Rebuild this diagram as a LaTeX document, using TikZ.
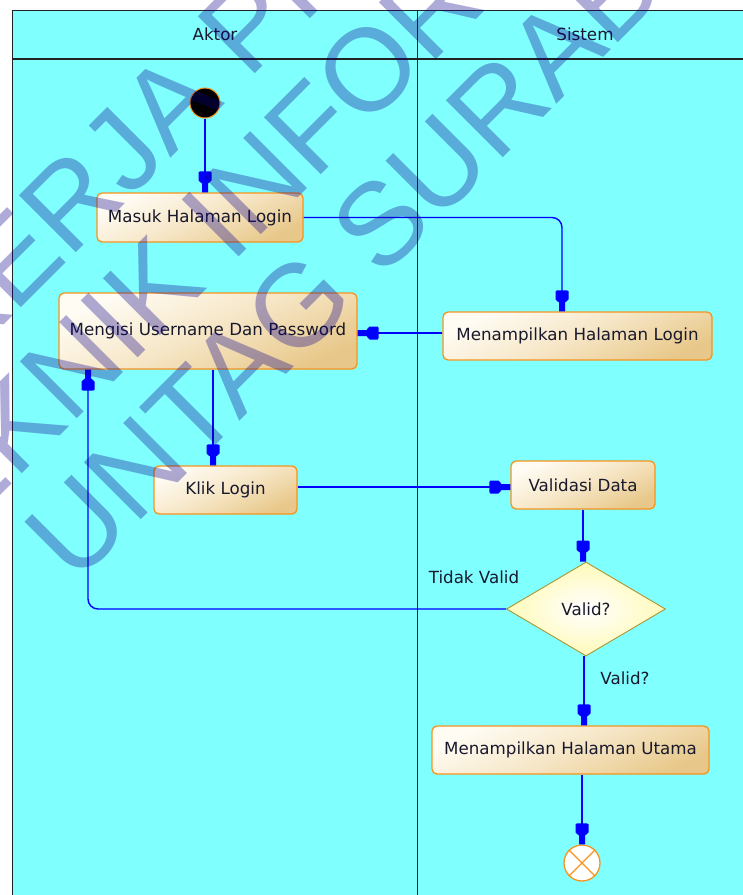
\documentclass[tikz,border=0pt]{standalone}
\usepackage{fontspec}
\setmainfont{DejaVu Sans}
\newfontfamily\wmfont{Liberation Sans}
\usetikzlibrary{arrows.meta,shapes.geometric}

\definecolor{lane}{RGB}{128,255,255}
\definecolor{rule}{RGB}{35,35,35}
\definecolor{ink}{RGB}{25,25,45}
\definecolor{actborder}{RGB}{247,148,29}
\definecolor{acttop}{RGB}{255,252,244}
\definecolor{actmid}{RGB}{246,230,198}
\definecolor{actbot}{RGB}{232,200,138}
\definecolor{decborder}{RGB}{170,150,50}
\definecolor{decfill}{RGB}{255,250,185}
\definecolor{flowblue}{RGB}{0,0,255}
\definecolor{wmblue}{RGB}{10,0,140}

\newcommand{\labelfont}{\fontsize{16.7}{20}\selectfont}

% stepped block arrow head: wide block, short taper, narrow stub at the tip
\pgfdeclarearrow{
  name = Block,
  parameters = {},
  setup code = {
    \pgfarrowssettipend{0pt}
    \pgfarrowssetlineend{-15pt}
    \pgfarrowssetbackend{-21pt}
    \pgfarrowshullpoint{0pt}{3pt}
    \pgfarrowshullpoint{0pt}{-3pt}
    \pgfarrowshullpoint{-21pt}{6.5pt}
    \pgfarrowshullpoint{-21pt}{-6.5pt}
  },
  drawing code = {
    \pgfpathmoveto{\pgfqpoint{0pt}{3pt}}
    \pgfpathlineto{\pgfqpoint{-9pt}{3pt}}
    \pgfpathlineto{\pgfqpoint{-10pt}{4.5pt}}
    \pgfpathlineto{\pgfqpoint{-12pt}{6.5pt}}
    \pgfpathlineto{\pgfqpoint{-20pt}{6.5pt}}
    \pgfpathlineto{\pgfqpoint{-21pt}{5pt}}
    \pgfpathlineto{\pgfqpoint{-21pt}{-5pt}}
    \pgfpathlineto{\pgfqpoint{-20pt}{-6.5pt}}
    \pgfpathlineto{\pgfqpoint{-12pt}{-6.5pt}}
    \pgfpathlineto{\pgfqpoint{-10pt}{-4.5pt}}
    \pgfpathlineto{\pgfqpoint{-9pt}{-3pt}}
    \pgfpathlineto{\pgfqpoint{0pt}{-3pt}}
    \pgfpathclose
    \pgfusepathqfill
  }
}

\tikzset{
  lanerule/.style={draw=rule, line width=1.6pt},
  act/.style={rectangle, rounded corners=5pt, draw=actborder, line width=1.3pt,
    top color=acttop, bottom color=actbot, middle color=actmid, shading angle=25,
    text=ink, font=\labelfont, inner sep=0pt},
  decision/.style={diamond, draw=decborder, line width=0.9pt,
    inner color=white, outer color=decfill, text=ink, font=\labelfont,
    minimum width=159pt, minimum height=94pt, inner sep=0pt},
  startnode/.style={circle, fill=black, draw=actborder, line width=1pt,
    minimum size=30pt, inner sep=0pt},
  endnode/.style={circle, fill=white, draw=actborder, line width=1.3pt,
    minimum size=36pt, inner sep=0pt},
  caption/.style={text=ink, font=\labelfont, inner sep=0pt},
  flow/.style={color=flowblue, line width=1.4pt, -{Block}},
  wm/.style={text=wmblue, text opacity=0.33, font=\wmfont\fontsize{117}{140}\selectfont,
    inner sep=0pt, anchor=center}
}

\begin{document}
\begin{tikzpicture}[x=1pt,y=-1pt]
\useasboundingbox (0,0) rectangle (743,895);
\fill[white] (0,0) rectangle (743,895);

% swimlane pool
\fill[lane] (12.5,10.5) rectangle (743,895);
\draw[lanerule] (12.5,895) -- (12.5,10.5) -- (743,10.5);
\draw[lanerule] (12.5,59) -- (743,59);
\draw[lanerule] (417.5,10.5) -- (417.5,895);
\node[caption] (laneA) at (215,34) {Aktor};
\node[caption] (laneB) at (585,34) {Sistem};

% activities
\node[startnode] (start) at (205,103) {};
\node[act, minimum width=206pt, minimum height=49pt] (masuk) at (200,217.5) {Masuk Halaman Login};
\node[act, minimum width=298pt, minimum height=76pt] (isi) at (208,331) {Mengisi Username Dan Password};
\node[act, minimum width=269pt, minimum height=48pt] (tampil) at (577.5,336) {Menampilkan Halaman Login};
\node[act, minimum width=143pt, minimum height=48pt] (klik) at (225.5,490) {Klik Login};
\node[act, minimum width=144pt, minimum height=48pt] (validasi) at (583,485) {Validasi Data};
\node[decision] (cek) at (586,609) {Valid?};
\node[act, minimum width=277pt, minimum height=48pt] (utama) at (570.5,750) {Menampilkan Halaman Utama};
\node[endnode] (fin) at (582,863) {};
\draw[actborder, line width=1.3pt] (fin.north west) -- (fin.south east)
  (fin.north east) -- (fin.south west);

% control flow
\draw[flow] (start.south) -- (masuk.north -| start.south);
\draw[flow, rounded corners=10pt] (masuk.east) -| ([xshift=-15.5pt]tampil.north);
\draw[flow] (tampil.west |- 0,333) -- (isi.east |- 0,333);
\draw[flow] (isi.south -| 213,0) -- (klik.north -| 213,0);
\draw[flow] (klik.east |- 0,487) -- (validasi.west |- 0,487);
\draw[flow] (validasi.south) -- (cek.north -| validasi.south);
\draw[flow, rounded corners=10pt] (cek.west) -| (isi.south -| 88,0);
\draw[flow] (cek.south -| 584,0) -- (utama.north -| 584,0);
\draw[flow] (utama.south -| fin.north) -- (fin.north);

\node[caption] (tidak) at (474,577) {Tidak Valid};
\node[caption] (ya) at (625,678) {Valid?};

% watermark
\begin{scope}
\clip (0,0) rectangle (743,895);
\node[wm, rotate=45] (wm1) at (269,4) {KERJA PRAKTEK};
\node[wm, rotate=45] (wm2) at (322,117) {TEKNIK INFORMATIKA};
\node[wm, rotate=45] (wm3) at (419,185) {UNTAG SURABAYA};
\end{scope}
\end{tikzpicture}
\end{document}
